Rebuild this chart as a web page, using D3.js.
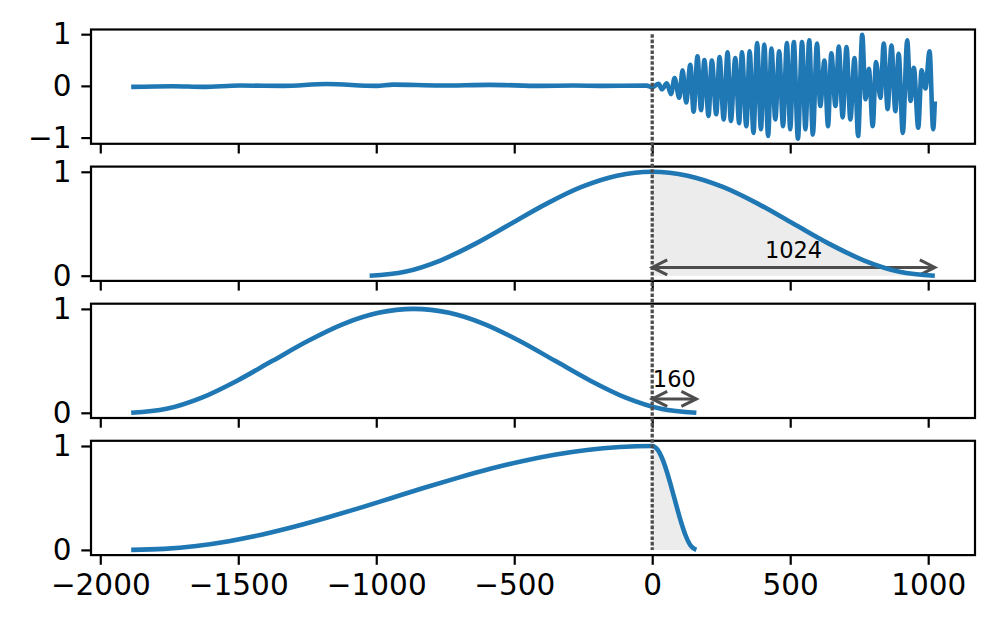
<!DOCTYPE html>
<html>
<head>
<meta charset="utf-8">
<script src="https://cdn.jsdelivr.net/npm/d3@7"></script>
<style>
  body { margin: 0; background: #fff; }
  svg { display: block; }
  text { font-family: "DejaVu Sans", sans-serif; }
</style>
</head>
<body>
<svg id="chart" width="997" height="631"></svg>
<script>
// top panel: the signal (mostly its peaks and troughs)
const signalX = [-1888, -1736, -1628, -1494, -1338, -1180, -999, -939, -769, -588, -406, -286, -178, -20, 0,
    23, 35, 53, 68, 81, 98, 110, 123, 138, 150, 164, 177, 189, 204, 216, 232, 244, 259, 273, 285,
    301, 315, 325, 341, 353, 367, 380, 394, 406, 420, 432, 446, 460, 474, 488, 500, 513, 528, 543,
    555, 569, 582, 597, 609, 624, 637, 649, 664, 676, 690, 704, 718, 733, 746, 761, 773, 785, 799,
    811, 827, 839, 853, 867, 881, 893, 908, 924, 936, 948, 964, 976, 990, 1005, 1018, 1024];
const signalY = [-0.02, -0.006, -0.02, 0.006, 0, 0.035, 0, 0.025, 0.006, 0.02, 0, 0.006, 0, 0.005, -0.03,
    0.04, -0.065, 0.05, -0.16, 0.15, -0.23, 0.30, -0.32, 0.41, -0.50, 0.57, -0.47, 0.50, -0.58, 0.49, -0.55, 0.56, -0.65, 0.65, -0.68,
    0.54, -0.72, 0.65, -0.78, 0.67, -0.91, 0.83, -0.84, 0.80, -0.97, 0.72, -0.65, 0.67, -0.78, 0.83, -0.84, 0.85, -1.02, 0.85,
    -0.84, 0.88, -0.94, 0.82, -0.39, 0.49, -0.78, 0.63, -0.39, 0.76, -0.61, 0.75, -0.65, 0.54, -0.97, 0.99, -0.26, 0.33, -0.78,
    0.46, -0.23, 0.82, -0.45, 0.78, -0.49, 0.62, -0.91, 0.88, -0.29, 0.35, -0.81, 0.30, -0.05, 0.67, -0.84, -0.30];

// second panel: centred window
const centredX = [-1024, -896, -768, -640, -512, -384, -256, -128, 0, 128, 256, 384, 512, 640, 768, 896, 1024];
const centredY = [0, 0.038, 0.146, 0.309, 0.5, 0.691, 0.854, 0.962, 1, 0.962, 0.854, 0.691, 0.5, 0.309, 0.146, 0.038, 0];

// third panel: shifted window
const shiftedX = [-1888, -1760, -1632, -1504, -1376, -1248, -1120, -992, -864, -736, -608, -480, -352, -224, -96, 32, 160];
const shiftedY = [0, 0.038, 0.146, 0.309, 0.5, 0.691, 0.854, 0.962, 1, 0.962, 0.854, 0.691, 0.5, 0.309, 0.146, 0.038, 0];

// bottom panel: asymmetric window
const asymX = [-1888, -1770, -1652, -1534, -1416, -1298, -1180, -1062, -944, -826, -708, -590, -472, -354, -236, -118, 0,
    20, 40, 60, 80, 100, 120, 140, 160];
const asymY = [0, 0.0096, 0.038, 0.084, 0.146, 0.222, 0.309, 0.402, 0.5, 0.598, 0.691, 0.778, 0.854, 0.916, 0.962, 0.990, 1,
    0.962, 0.854, 0.691, 0.5, 0.309, 0.146, 0.038, 0];

const xTicks = [-2000, -1500, -1000, -500, 0, 500, 1000];
const arrowLengths = [1024, 160];

const blue = "#1f77b4", gray = "#4d4d4d", shade = "#ececec";
const left = 91, right = 975;
const panelTop = [29.5, 166.6, 303.7, 440.8], panelH = 114.3;

const svg = d3.select("#chart");

const allX = signalX.concat(centredX, shiftedX, asymX);
const xPad = (d3.max(allX) - d3.min(allX)) * 0.05;
const x = d3.scaleLinear().domain([d3.min(allX) - xPad, d3.max(allX) + xPad]).range([left, right]);

const panels = [
    { xs: signalX, ys: signalY, yTicks: [-1, 0, 1] },
    { xs: centredX, ys: centredY, yTicks: [0, 1], fillTo: 1024, arrow: 0 },
    { xs: shiftedX, ys: shiftedY, yTicks: [0, 1], fillTo: 160, arrow: 1 },
    { xs: asymX, ys: asymY, yTicks: [0, 1], fillTo: 160 }
];

panels.forEach((p, i) => {
    let lo = d3.min(p.ys), hi = d3.max(p.ys), m = (hi - lo) * 0.05;
    p.y = d3.scaleLinear().domain([lo - m, hi + m]).range([panelTop[i] + panelH, panelTop[i]]);
    p.pts = p.xs.map((v, k) => [v, p.ys[k]]);

    let g = svg.append("g");

    // shaded part right of zero
    if (p.fillTo) {
        let pts = p.pts.filter(d => d[0] >= 0 && d[0] <= p.fillTo);
        g.append("path")
            .attr("d", d3.area().x(d => x(d[0])).y0(p.y(0)).y1(d => p.y(d[1])).curve(d3.curveMonotoneX)(pts))
            .attr("fill", shade);
    }

    if (p.arrow !== undefined) {
        let len = arrowLengths[p.arrow];
        let ay = p.arrow === 0 ? 0.08 : 0.134;
        let ty = p.arrow === 0 ? 0.175 : 0.245;
        let yy = p.y(ay), x0 = x(0), x1 = x(len);
        g.append("line").attr("x1", x0).attr("x2", x1).attr("y1", yy).attr("y2", yy)
            .attr("stroke", gray).attr("stroke-width", 3);
        [[x0, 1], [x1, -1]].forEach(([hx, dir]) => {
            g.append("path")
                .attr("d", `M${hx + dir * 15},${yy - 7.5}L${hx},${yy}L${hx + dir * 15},${yy + 7.5}`)
                .attr("fill", "none").attr("stroke", gray).attr("stroke-width", 3);
        });
        g.append("text").attr("x", x(len / 2)).attr("y", p.y(ty))
            .attr("text-anchor", "middle").attr("font-size", "22.5px").text(len);
    }

    g.append("path")
        .attr("d", d3.line().x(d => x(d[0])).y(d => p.y(d[1])).curve(d3.curveMonotoneX)(p.pts))
        .attr("fill", "none").attr("stroke", blue).attr("stroke-width", 4.6)
        .attr("stroke-linejoin", "round");

    let ya = svg.append("g").attr("transform", `translate(${left},0)`)
        .call(d3.axisLeft(p.y).tickValues(p.yTicks).tickFormat(d3.format("d")).tickSize(9.7).tickPadding(9.7));
    let xa = svg.append("g").attr("transform", `translate(0,${panelTop[i] + panelH})`)
        .call(d3.axisBottom(x).tickValues(xTicks).tickSize(9.7).tickPadding(9.7)
            .tickFormat(i === 3 ? d3.format("d") : ""));
    [ya, xa].forEach(a => {
        a.select(".domain").remove();
        a.selectAll(".tick line").attr("stroke", "#000").attr("stroke-width", 2.2);
        a.selectAll(".tick text").attr("fill", "#000").attr("font-size", "29.5px")
            .attr("font-family", "DejaVu Sans, sans-serif");
    });

    svg.append("rect").attr("x", left).attr("y", panelTop[i]).attr("width", right - left).attr("height", panelH)
        .attr("fill", "none").attr("stroke", "#000").attr("stroke-width", 2.2);
});

// dotted marker at zero across all panels
svg.append("line")
    .attr("x1", x(0)).attr("x2", x(0))
    .attr("y1", panels[0].y(1)).attr("y2", panels[3].y(0))
    .attr("stroke", gray).attr("stroke-width", 3.3).attr("stroke-dasharray", "3.6,1.8");
</script>
</body>
</html>
